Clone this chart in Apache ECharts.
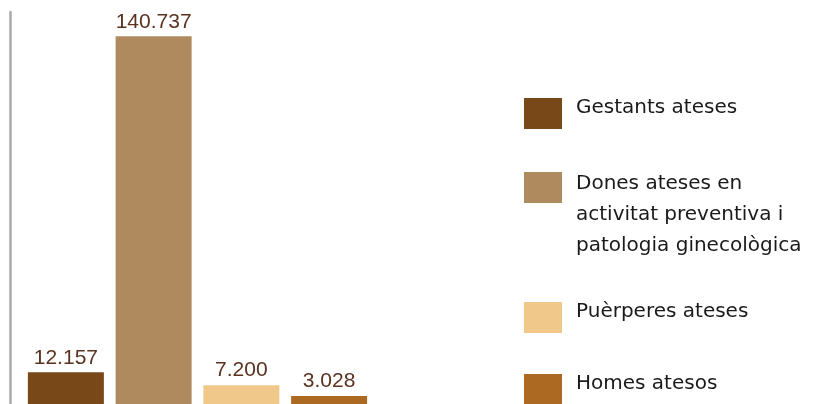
<!DOCTYPE html>
<html>
<head>
<meta charset="utf-8">
<style>
  html, body { margin: 0; padding: 0; background: #ffffff; }
  #chart { width: 825px; height: 404px; }
</style>
<script src="https://cdn.jsdelivr.net/npm/echarts@6/dist/echarts.min.js"></script>
</head>
<body>
<div id="chart"></div>
<script>
// dades del gràfic
const categories = [
  'Gestants ateses',
  'Dones ateses en\nactivitat preventiva i\npatologia ginecològica',
  'Puèrperes ateses',
  'Homes atesos'
];
const values = [12157, 140737, 7200, 3028];
const colors = ['#784818', '#b08a5f', '#f0c88a', '#ac6921'];

// posició de cada llegenda (el text multilínia comença a dalt del quadrat)
const legendTops = [92.5, 113.5, 296.5, 368.5];

function fmt(v) {
  return String(v).replace(/\B(?=(\d{3})+(?!\d))/g, '.');
}

// espaiadors per alinear el text amb la part de dalt del quadrat
function legendText(name) {
  if (name.indexOf('\n') >= 0) {
    return '{top| }\n' + name;
  }
  return name + '\n{bot| }';
}

const chart = echarts.init(document.getElementById('chart'));

const option = {
  backgroundColor: '#ffffff',
  animation: false,
  grid: { left: 22, top: 12, width: 351, bottom: 0 },
  xAxis: {
    type: 'category',
    data: categories,
    axisLine: { show: false },
    axisTick: { show: false },
    axisLabel: { show: false }
  },
  yAxis: {
    type: 'value',
    min: 0,
    max: 150000,
    offset: 12,
    axisLine: { show: true, lineStyle: { color: '#aaaaaa', width: 2.5 } },
    axisTick: { show: false },
    axisLabel: { show: false },
    splitLine: { show: false }
  },
  legend: categories.map((name, i) => ({
    data: [name],
    left: 524,
    top: legendTops[i],
    orient: 'vertical',
    padding: 0,
    icon: 'rect',
    itemWidth: 38,
    itemHeight: 31,
    formatter: legendText,
    textStyle: {
      fontFamily: 'DejaVu Sans',
      fontSize: 20,
      lineHeight: 31,
      color: '#1a1a1a',
      padding: [0, 0, 0, 9],
      rich: {
        top: { fontSize: 1, lineHeight: 55 },
        bot: { fontSize: 1, lineHeight: 11 }
      }
    }
  })),
  series: categories.map((name, i) => ({
    name: name,
    type: 'bar',
    stack: 'total',
    barWidth: 76,
    itemStyle: { color: colors[i] },
    label: {
      show: true,
      position: 'top',
      distance: 4,
      fontFamily: 'Liberation Sans',
      fontSize: 21,
      color: '#5a3220',
      formatter: p => fmt(p.value)
    },
    data: categories.map((c, j) => (j === i ? values[i] : '-'))
  }))
};

chart.setOption(option);
</script>
</body>
</html>
